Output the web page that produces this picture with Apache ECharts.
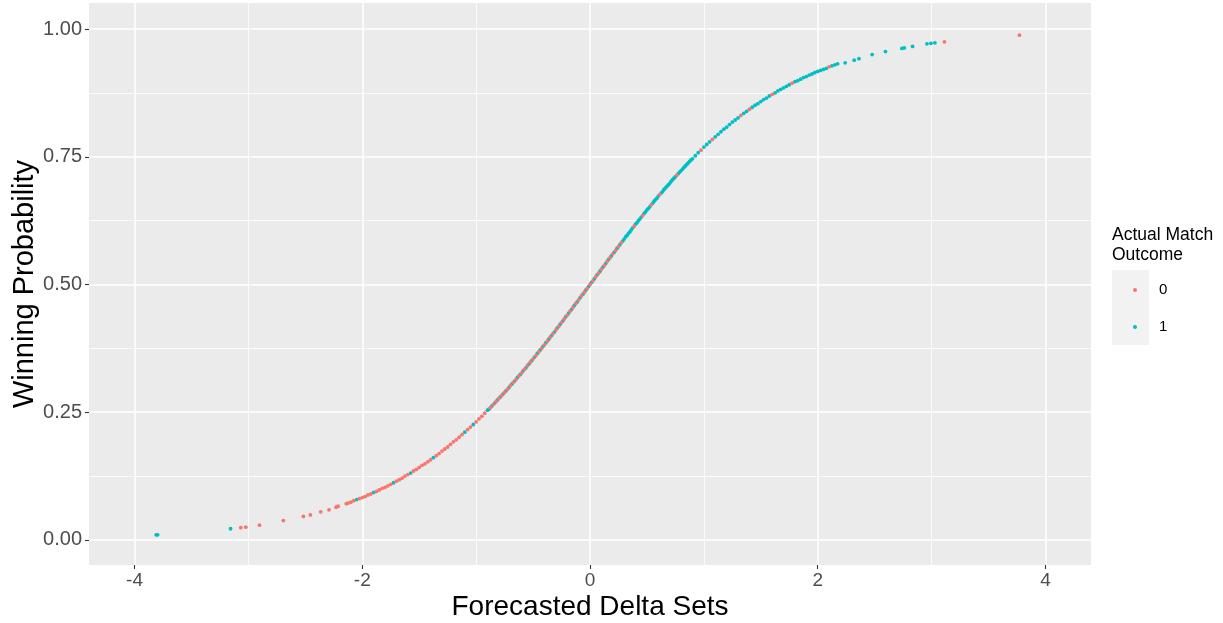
<!DOCTYPE html>
<html>
<head>
<meta charset="utf-8">
<script src="https://cdn.jsdelivr.net/npm/echarts@6/dist/echarts.min.js"></script>
<style>
html, body { margin: 0; padding: 0; background: #fff; }
#chart { width: 1223px; height: 623px; }
</style>
</head>
<body>
<div id="chart"></div>
<script>
// points, [forecasted delta sets, winning probability]
// outcome 0 (red)
var zeroTail = [[-3.067,0.024],[-3.023,0.025],[-2.903,0.029],[-2.693,0.038],[-2.517,0.046],[-2.456,0.049],
  [-2.365,0.055],[-2.292,0.059],[-2.230,0.064],[-2.212,0.066],[-2.140,0.071]];
var zeroLeft = [[-2.125,0.072],[-2.1,0.074],[-2.075,0.077],[-2.025,0.081],[-2.0,0.083],[-1.975,0.085],[-1.95,0.088],
  [-1.925,0.090],[-1.875,0.095],[-1.85,0.098],[-1.825,0.101],[-1.8,0.103],[-1.775,0.106],[-1.75,0.109],
  [-1.7,0.115],[-1.675,0.118],[-1.65,0.121],[-1.625,0.125],[-1.6,0.128],[-1.55,0.135],[-1.525,0.138],
  [-1.5,0.142],[-1.475,0.146],[-1.45,0.149],[-1.425,0.153],[-1.4,0.157],[-1.35,0.165],[-1.325,0.169],
  [-1.3,0.174],[-1.275,0.178],[-1.25,0.182],[-1.225,0.187],[-1.2,0.192],[-1.175,0.196],[-1.15,0.201],
  [-1.125,0.206],[-1.075,0.216],[-1.05,0.221],[-1.0,0.231],[-0.975,0.237],[-0.95,0.242],[-0.925,0.248]];
var zeroMid = [[-0.875,0.259],[-0.85,0.265],[-0.825,0.271],[-0.8,0.277],[-0.775,0.283],[-0.75,0.289],[-0.725,0.295],
  [-0.7,0.302],[-0.675,0.308],[-0.65,0.314],[-0.625,0.321],[-0.6,0.327],[-0.575,0.334],[-0.55,0.341],
  [-0.525,0.348],[-0.5,0.354],[-0.475,0.361],[-0.45,0.368],[-0.425,0.375],[-0.4,0.382],[-0.375,0.389],
  [-0.35,0.397],[-0.325,0.404],[-0.3,0.411],[-0.275,0.418],[-0.25,0.426],[-0.225,0.433],[-0.2,0.440],
  [-0.175,0.448],[-0.15,0.455],[-0.125,0.463],[-0.1,0.470],[-0.075,0.478],[-0.05,0.485],[-0.025,0.492],
  [0,0.500],[0.025,0.507],[0.05,0.515],[0.075,0.522],[0.1,0.530],[0.125,0.537],[0.15,0.545],[0.175,0.552],
  [0.2,0.560],[0.225,0.567],[0.25,0.574],[0.275,0.582]];
var zeroRight = [[0.3875,0.614],[0.4625,0.635],[0.5375,0.656],[0.6125,0.676],[0.7625,0.714],[0.975,0.763],
  [1.075,0.784],[1.325,0.831],[1.4,0.843],[1.6,0.872],[1.775,0.894],[2.1,0.926],[3.113,0.975],[3.772,0.988]];

// outcome 1 (teal)
var oneLeft = [[-3.810,0.010],[-3.797,0.010],[-3.157,0.022],[-2.05,0.079],[-1.9,0.093],[-1.725,0.112],
  [-1.575,0.131],[-1.375,0.161],[-1.1,0.211],[-1.025,0.226],[-0.9,0.254]];
var oneMid = [[-0.8875,0.256],[-0.8625,0.262],[-0.8375,0.268],[-0.8125,0.274],[-0.7875,0.280],[-0.7625,0.286],
  [-0.7375,0.292],[-0.7125,0.298],[-0.6875,0.305],[-0.6625,0.311],[-0.6375,0.318],[-0.6125,0.324],
  [-0.5875,0.331],[-0.5625,0.337],[-0.5375,0.344],[-0.5125,0.351],[-0.4875,0.358],[-0.4625,0.365],
  [-0.4375,0.372],[-0.4125,0.379],[-0.3875,0.386],[-0.3625,0.393],[-0.3375,0.400],[-0.3125,0.407],
  [-0.2875,0.415],[-0.2625,0.422],[-0.2375,0.429],[-0.2125,0.437],[-0.1875,0.444],[-0.1625,0.451],
  [-0.1375,0.459],[-0.1125,0.466],[-0.0875,0.474],[-0.0625,0.481],[-0.0375,0.489],[-0.0125,0.496],
  [0.0125,0.504],[0.0375,0.511],[0.0625,0.519],[0.0875,0.526],[0.1125,0.534],[0.1375,0.541],[0.1625,0.549],
  [0.1875,0.556],[0.2125,0.563],[0.2375,0.571],[0.2625,0.578],[0.2875,0.585]];
var oneRight = [[0.3,0.589],[0.3125,0.593],[0.325,0.596],[0.3375,0.600],[0.35,0.603],[0.3625,0.607],[0.375,0.611],
  [0.4,0.618],[0.4125,0.621],[0.425,0.625],[0.4375,0.628],[0.45,0.632],[0.475,0.639],[0.4875,0.642],
  [0.5,0.646],[0.5125,0.649],[0.525,0.652],[0.55,0.659],[0.5625,0.663],[0.575,0.666],[0.5875,0.669],
  [0.6,0.673],[0.625,0.679],[0.6375,0.682],[0.65,0.686],[0.6625,0.689],[0.675,0.692],[0.6875,0.695],
  [0.7,0.698],[0.7125,0.702],[0.725,0.705],[0.7375,0.708],[0.75,0.711],[0.775,0.717],[0.7875,0.720],
  [0.8,0.723],[0.8125,0.726],[0.825,0.729],[0.8375,0.732],[0.85,0.735],[0.8625,0.738],[0.875,0.741],
  [0.8875,0.744],[0.9,0.746],[0.925,0.752],[0.95,0.758],[1.0,0.769],[1.025,0.774],[1.05,0.779],
  [1.1,0.789],[1.125,0.794],[1.15,0.799],[1.175,0.804],[1.2,0.808],[1.225,0.813],[1.25,0.818],
  [1.275,0.822],[1.3,0.826],[1.35,0.835],[1.375,0.839],[1.425,0.847],[1.45,0.851],[1.475,0.854],
  [1.5,0.858],[1.525,0.862],[1.55,0.865],[1.575,0.869],[1.625,0.875],[1.65,0.879],[1.675,0.882],
  [1.7,0.885],[1.725,0.888],[1.75,0.891],[1.8,0.897],[1.825,0.899],[1.85,0.902],[1.875,0.905],
  [1.9,0.907],[1.925,0.910],[1.95,0.912],[1.975,0.915],[2.0,0.917],[2.025,0.919],[2.05,0.921],
  [2.075,0.923],[2.125,0.928],[2.15,0.930],[2.175,0.932]];
var oneTail = [[2.241,0.934],[2.320,0.939],[2.362,0.942],[2.478,0.950],[2.595,0.956],[2.739,0.962],
  [2.760,0.963],[2.833,0.966],[2.959,0.971],[2.994,0.972],[3.029,0.973]];

var xTicks = [-4, -2, 0, 2, 4];
var xMinor = [-3, -1, 1, 3];
var yTicks = [0, 0.25, 0.5, 0.75, 1];
var yMinor = [0.125, 0.375, 0.625, 0.875];

var FONT = '"Liberation Sans", Arial, sans-serif';
var myChart = echarts.init(document.getElementById('chart'));

var option = {
  animation: false,
  grid: {
    left: 89, right: 132, top: 3, bottom: 58,
    show: true, backgroundColor: '#EBEBEB', borderWidth: 0,
    containLabel: false
  },
  xAxis: [{
    type: 'value', min: -4.4, max: 4.4, position: 'bottom',
    axisLine: { show: false, onZero: false },
    axisTick: { show: true, length: 4, customValues: xTicks, lineStyle: { color: '#333333', width: 1.1 } },
    axisLabel: { customValues: xTicks, color: '#4D4D4D', fontSize: 19, fontFamily: FONT, margin: 6 },
    splitLine: { show: true, lineStyle: { color: '#FFFFFF', width: 1.5 } }
  }, {
    // minor grid only
    type: 'value', min: -4.4, max: 4.4, position: 'top',
    axisLine: { show: false, onZero: false },
    axisTick: { show: false, customValues: xMinor },
    axisLabel: { show: false },
    splitLine: { show: true, lineStyle: { color: '#FFFFFF', width: 0.8 } }
  }],
  yAxis: [{
    type: 'value', min: -0.049, max: 1.051, position: 'left',
    axisLine: { show: false, onZero: false },
    axisTick: { show: true, length: 4, customValues: yTicks, lineStyle: { color: '#333333', width: 1.1 } },
    axisLabel: {
      customValues: yTicks, color: '#4D4D4D', fontSize: 20, fontFamily: FONT, margin: 7,
      formatter: function (v) { return v.toFixed(2); }
    },
    splitLine: { show: true, lineStyle: { color: '#FFFFFF', width: 1.5 } }
  }, {
    type: 'value', min: -0.049, max: 1.051, position: 'right',
    axisLine: { show: false, onZero: false },
    axisTick: { show: false, customValues: yMinor },
    axisLabel: { show: false },
    splitLine: { show: true, lineStyle: { color: '#FFFFFF', width: 0.8 } }
  }],
  legend: {
    data: ['0', '1'],
    orient: 'vertical',
    left: 1128, top: 277,
    icon: 'circle',
    itemWidth: 4, itemHeight: 4, itemGap: 21,
    selectedMode: false,
    textStyle: { fontSize: 15, color: '#000', fontFamily: FONT, lineHeight: 16, padding: [0, 0, 0, 17] }
  },
  graphic: [
    { type: 'rect', left: 1112, top: 270, shape: { width: 37, height: 75 }, style: { fill: '#F2F2F2' }, silent: true },
    { type: 'text', left: 1112, top: 225.6, silent: true,
      style: { text: 'Actual Match\nOutcome', fontSize: 17.5, fontFamily: FONT, fill: '#000', lineHeight: 20 } },
    { type: 'text', x: 25, y: 284, rotation: Math.PI / 2, silent: true,
      style: { text: 'Winning Probability', fontSize: 29, fontFamily: FONT, fill: '#000', align: 'center', verticalAlign: 'middle' } },
    { type: 'text', x: 590, y: 607, silent: true,
      style: { text: 'Forecasted Delta Sets', fontSize: 28, fontFamily: FONT, fill: '#000', align: 'center', verticalAlign: 'middle' } }
  ],
  // teal drawn first so the red points sit on top where the two interleave
  series: [{
    name: '1',
    type: 'scatter',
    xAxisIndex: 0, yAxisIndex: 0,
    symbolSize: 3.8,
    itemStyle: { color: '#00BFC4', opacity: 1 },
    emphasis: { disabled: true },
    data: oneLeft.concat(oneMid, oneRight, oneTail)
  }, {
    name: '0',
    type: 'scatter',
    xAxisIndex: 0, yAxisIndex: 0,
    symbolSize: 3.8,
    itemStyle: { color: '#F8766D', opacity: 1 },
    emphasis: { disabled: true },
    data: zeroTail.concat(zeroLeft, zeroMid, zeroRight)
  }]
};

myChart.setOption(option, true);
</script>
</body>
</html>
